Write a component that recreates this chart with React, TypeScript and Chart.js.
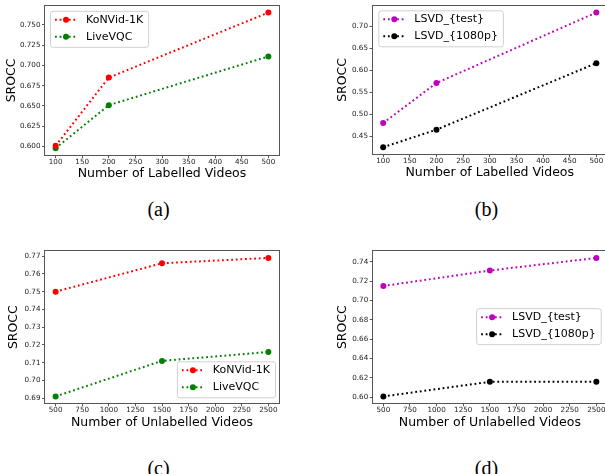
import React, { useEffect, useRef } from "react";
import { Chart, registerables } from "chart.js";

Chart.register(...registerables);

// ---------- data ----------
const labelledCounts = [100, 200, 500];
const unlabelledCounts = [500, 1500, 2500];

const konvidLabelled = [0.601, 0.685, 0.765];
const liveVqcLabelled = [0.598, 0.651, 0.711];
const lsvdTestLabelled = [0.48, 0.571, 0.731];
const lsvd1080Labelled = [0.425, 0.465, 0.616];

const konvidUnlabelled = [0.75, 0.766, 0.769];
const liveVqcUnlabelled = [0.691, 0.711, 0.716];
const lsvdTestUnlabelled = [0.715, 0.731, 0.744];
const lsvd1080Unlabelled = [0.601, 0.616, 0.616];

const xTicksLabelled = [100, 150, 200, 250, 300, 350, 400, 450, 500];
const xTicksUnlabelled = [500, 750, 1000, 1250, 1500, 1750, 2000, 2250, 2500];
const yTicksA = [0.6, 0.625, 0.65, 0.675, 0.7, 0.725, 0.75];
const yTicksB = [0.45, 0.5, 0.55, 0.6, 0.65, 0.7];
const yTicksC = [0.69, 0.7, 0.71, 0.72, 0.73, 0.74, 0.75, 0.76, 0.77];
const yTicksD = [0.6, 0.62, 0.64, 0.66, 0.68, 0.7, 0.72, 0.74];

const seriesNamesAC = ["KoNVid-1K", "LiveVQC"];
const seriesNamesBD = ["LSVD_{test}", "LSVD_{1080p}"];
const xTitleLabelled = "Number of Labelled Videos";
const xTitleUnlabelled = "Number of Unlabelled Videos";
const yTitle = "SROCC";
const captions = ["(a)", "(b)", "(c)", "(d)"];

// ---------- styling ----------
const RED = "#ff0000";
const GREEN = "#008000";
const MAGENTA = "#bf00bf";
const BLACK = "#000000";
const FONT = "'DejaVu Sans', sans-serif";

function padRange(values: number[][], frac = 0.05) {
  const all = values.flat();
  const mn = Math.min(...all);
  const mx = Math.max(...all);
  const r = mx - mn;
  return [mn - r * frac, mx + r * frac];
}

const frameLegendPlugin = {
  id: "frameLegend",
  afterDraw(chart: any, _args: any, opts: any) {
    const { ctx, chartArea: ca } = chart;
    ctx.save();
    // full box (spines)
    ctx.strokeStyle = "#555";
    ctx.lineWidth = 1;
    ctx.strokeRect(
      Math.round(ca.left) - 0.5,
      Math.round(ca.top) - 0.5,
      Math.round(ca.right) - Math.round(ca.left) + 1,
      Math.round(ca.bottom) - Math.round(ca.top) + 1
    );
    // legend
    const fontPx = 11;
    ctx.font = `${fontPx}px ${FONT}`;
    const items = chart.data.datasets;
    const tw = Math.max(...items.map((d: any) => ctx.measureText(d.label).width));
    const w = 36 + tw + 5;
    const h = 36;
    let x: number;
    let y: number;
    if (opts.place === "tl") {
      x = ca.left + opts.dx;
      y = ca.top + opts.dy;
    } else if (opts.place === "br") {
      x = ca.right - opts.dx - w;
      y = ca.bottom - opts.dy - h;
    } else {
      x = ca.right - opts.dx - w;
      y = (ca.top + ca.bottom) / 2 - h / 2 + opts.dy;
    }
    ctx.beginPath();
    (ctx as any).roundRect(x + 0.5, y + 0.5, w, h, 2.5);
    ctx.fillStyle = "rgba(255,255,255,0.85)";
    ctx.fill();
    ctx.strokeStyle = "#d0d0d0";
    ctx.lineWidth = 1;
    ctx.stroke();
    items.forEach((d: any, i: number) => {
      const cy = y + 9 + i * 17;
      ctx.save();
      ctx.strokeStyle = d.borderColor;
      ctx.lineWidth = 2;
      ctx.setLineDash([1.8, 2.8]);
      ctx.beginPath();
      ctx.moveTo(x + 5, cy);
      ctx.lineTo(x + 27, cy);
      ctx.stroke();
      ctx.restore();
      ctx.beginPath();
      ctx.arc(x + 16, cy, 3, 0, Math.PI * 2);
      ctx.fillStyle = d.borderColor;
      ctx.fill();
      ctx.fillStyle = "#000";
      ctx.textBaseline = "middle";
      ctx.textAlign = "left";
      ctx.fillText(d.label, x + 36, cy);
    });
    ctx.restore();
  },
};

interface PanelProps {
  box: { left: number; top: number; width: number; height: number };
  padTop: number;
  padRight: number;
  yWidth: number;
  xHeight: number;
  yTitlePad: number;
  xTitlePad: number;
  xs: number[];
  series: number[][];
  names: string[];
  colors: string[];
  xTicks: number[];
  yTicks: number[];
  yDecimals: number;
  xTitle: string;
  legend: { place: string; dx: number; dy: number };
}

function Panel(p: PanelProps) {
  const ref = useRef<HTMLCanvasElement | null>(null);
  useEffect(() => {
    if (!ref.current) return;
    const [xmin, xmax] = padRange([p.xs]);
    const [ymin, ymax] = padRange(p.series);
    const tickFont = { family: FONT, size: 7.2 };
    const titleFont = { family: FONT, size: 12.5 };
    const chart = new Chart(ref.current, {
      type: "line",
      data: {
        datasets: p.series.map((vals, i) => ({
          label: p.names[i],
          data: vals.map((v, j) => ({ x: p.xs[j], y: v })),
          borderColor: p.colors[i],
          backgroundColor: p.colors[i],
          borderWidth: 2,
          borderDash: [1.8, 2.8],
          pointRadius: 3,
          pointHoverRadius: 3,
          pointBorderWidth: 0,
          pointBackgroundColor: p.colors[i],
          tension: 0,
          fill: false,
        })),
      },
      options: {
        animation: false,
        responsive: false,
        devicePixelRatio: 1,
        layout: { padding: { top: p.padTop, right: p.padRight, left: 0, bottom: 0 } },
        plugins: {
          legend: { display: false },
          tooltip: { enabled: false },
          frameLegend: p.legend,
        } as any,
        scales: {
          x: {
            type: "linear",
            min: xmin,
            max: xmax,
            border: { display: false },
            grid: { drawOnChartArea: false, drawTicks: true, tickLength: 3, color: "#555" },
            ticks: {
              font: tickFont,
              color: "#222",
              padding: 0,
              maxRotation: 0,
              autoSkip: false,
              callback: (v: any) => String(v),
            },
            afterBuildTicks: (s: any) => {
              s.ticks = p.xTicks.map((v) => ({ value: v }));
            },
            afterFit: (s: any) => {
              s.height = p.xHeight;
            },
            title: {
              display: true,
              text: p.xTitle,
              font: titleFont,
              color: "#000",
              padding: { top: 0, bottom: p.xTitlePad },
            },
          },
          y: {
            type: "linear",
            min: ymin,
            max: ymax,
            border: { display: false },
            grid: { drawOnChartArea: false, drawTicks: true, tickLength: 3, color: "#555" },
            ticks: {
              font: tickFont,
              color: "#222",
              padding: 1.5,
              autoSkip: false,
              callback: (v: any) => Number(v).toFixed(p.yDecimals),
            },
            afterBuildTicks: (s: any) => {
              s.ticks = p.yTicks.map((v) => ({ value: v }));
            },
            afterFit: (s: any) => {
              s.width = p.yWidth;
            },
            title: {
              display: true,
              text: yTitle,
              font: titleFont,
              color: "#000",
              padding: { top: p.yTitlePad, bottom: 0 },
            },
          },
        },
      } as any,
      plugins: [frameLegendPlugin as any],
    });
    return () => chart.destroy();
  }, []);
  return (
    <canvas
      ref={ref}
      width={p.box.width}
      height={p.box.height}
      style={{
        position: "absolute",
        left: p.box.left,
        top: p.box.top,
        width: p.box.width,
        height: p.box.height,
      }}
    />
  );
}

function Caption({ text, cx, cy }: { text: string; cx: number; cy: number }) {
  return (
    <div
      style={{
        position: "absolute",
        left: cx,
        top: cy,
        transform: "translate(-50%, -50%)",
        fontFamily: "'Liberation Serif', 'Times New Roman', serif",
        fontSize: 20,
        lineHeight: "24px",
        color: "#000",
        whiteSpace: "nowrap",
      }}
    >
      {text}
    </div>
  );
}

export default function App() {
  return (
    <div
      style={{
        position: "absolute",
        left: 0,
        top: 0,
        width: 605,
        height: 474,
        overflow: "hidden",
        background: "#fff",
      }}
    >
      <Panel
        box={{ left: 0, top: 0, width: 300, height: 190 }}
        padTop={2}
        padRight={21}
        yWidth={45}
        xHeight={35}
        yTitlePad={4.2}
        xTitlePad={9}
        xs={labelledCounts}
        series={[konvidLabelled, liveVqcLabelled]}
        names={seriesNamesAC}
        colors={[RED, GREEN]}
        xTicks={xTicksLabelled}
        yTicks={yTicksA}
        yDecimals={3}
        xTitle={xTitleLabelled}
        legend={{ place: "tl", dx: 5, dy: 5 }}
      />
      <Panel
        box={{ left: 300, top: 0, width: 310, height: 190 }}
        padTop={1.5}
        padRight={2}
        yWidth={72.5}
        xHeight={36}
        yTitlePad={35}
        xTitlePad={10}
        xs={labelledCounts}
        series={[lsvdTestLabelled, lsvd1080Labelled]}
        names={seriesNamesBD}
        colors={[MAGENTA, BLACK]}
        xTicks={xTicksLabelled}
        yTicks={yTicksB}
        yDecimals={2}
        xTitle={xTitleLabelled}
        legend={{ place: "tl", dx: 5.8, dy: 4.5 }}
      />
      <Panel
        box={{ left: 0, top: 240, width: 300, height: 200 }}
        padTop={11}
        padRight={21}
        yWidth={45}
        xHeight={36.7}
        yTitlePad={6.5}
        xTitlePad={9.7}
        xs={unlabelledCounts}
        series={[konvidUnlabelled, liveVqcUnlabelled]}
        names={seriesNamesAC}
        colors={[RED, GREEN]}
        xTicks={xTicksUnlabelled}
        yTicks={yTicksC}
        yDecimals={2}
        xTitle={xTitleUnlabelled}
        legend={{ place: "br", dx: 4, dy: 6 }}
      />
      <Panel
        box={{ left: 300, top: 240, width: 310, height: 200 }}
        padTop={11}
        padRight={2}
        yWidth={72.7}
        xHeight={36.7}
        yTitlePad={35.3}
        xTitlePad={9.7}
        xs={unlabelledCounts}
        series={[lsvdTestUnlabelled, lsvd1080Unlabelled]}
        names={seriesNamesBD}
        colors={[MAGENTA, BLACK]}
        xTicks={xTicksUnlabelled}
        yTicks={yTicksD}
        yDecimals={2}
        xTitle={xTitleUnlabelled}
        legend={{ place: "r", dx: 6.3, dy: -1 }}
      />
      <Caption text={captions[0]} cx={158.5} cy={208.5} />
      <Caption text={captions[1]} cx={486.5} cy={208.5} />
      <Caption text={captions[2]} cx={158.5} cy={467.5} />
      <Caption text={captions[3]} cx={486.5} cy={467.5} />
    </div>
  );
}
